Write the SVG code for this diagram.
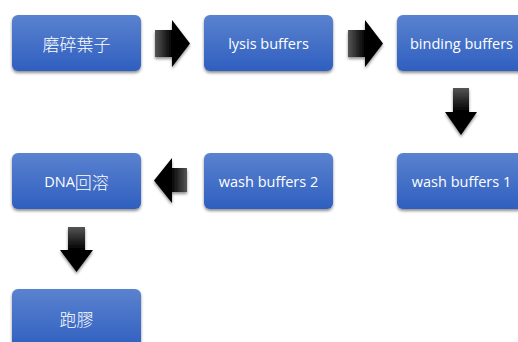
<svg xmlns="http://www.w3.org/2000/svg" width="518" height="342" viewBox="0 0 518 342">
<defs>
<linearGradient id="bg" x1="0" y1="0" x2="0" y2="1">
<stop offset="0" stop-color="#5a82cf"/>
<stop offset="1" stop-color="#2f5fc0"/>
</linearGradient>
<linearGradient id="ah" x1="0" y1="0" x2="1" y2="0">
<stop offset="0" stop-color="#555"/>
<stop offset="0.5" stop-color="#000"/>
<stop offset="1" stop-color="#000"/>
</linearGradient>
<linearGradient id="al" x1="1" y1="0" x2="0" y2="0">
<stop offset="0" stop-color="#555"/>
<stop offset="0.5" stop-color="#000"/>
<stop offset="1" stop-color="#000"/>
</linearGradient>
<linearGradient id="av" x1="0" y1="0" x2="0" y2="1">
<stop offset="0" stop-color="#555"/>
<stop offset="0.5" stop-color="#000"/>
<stop offset="1" stop-color="#000"/>
</linearGradient>
<filter id="sh" x="-20%" y="-20%" width="140%" height="150%">
<feGaussianBlur in="SourceAlpha" stdDeviation="1.5"/>
<feOffset dx="0" dy="2" result="b"/>
<feComponentTransfer><feFuncA type="linear" slope="0.45"/></feComponentTransfer>
<feMerge><feMergeNode/><feMergeNode in="SourceGraphic"/></feMerge>
</filter>
</defs>
<style>
.box{fill:url(#bg);filter:url(#sh)}
.t{fill:#fff;font-family:"Open Sans","Noto Sans CJK TC",sans-serif;font-size:14.5px;text-anchor:middle;dominant-baseline:central}
.c{font-family:"Noto Sans CJK TC",sans-serif;font-size:17px;font-weight:300}
.arr{filter:url(#sh)}
</style>
<g id="n1"><rect class="box" x="12" y="15" width="129" height="56" rx="6"/><text class="t c" x="76.5" y="43">磨碎葉子</text></g>
<g id="n2"><rect class="box" x="204" y="15" width="129" height="56" rx="6"/><text class="t" x="268.5" y="43">lysis buffers</text></g>
<g id="n3"><rect class="box" x="397" y="15" width="129" height="56" rx="6"/><text class="t" x="461.5" y="43">binding buffers</text></g>
<g id="n4"><rect class="box" x="397" y="153" width="129" height="56" rx="6"/><text class="t" x="461.5" y="181">wash buffers 1</text></g>
<g id="n5"><rect class="box" x="204" y="153" width="129" height="56" rx="6"/><text class="t" x="268.5" y="181">wash buffers 2</text></g>
<g id="n6"><rect class="box" x="12" y="153" width="129" height="56" rx="6"/><text class="t" x="76.5" y="181">DNA<tspan class="c">回溶</tspan></text></g>
<g id="n7"><rect class="box" x="12" y="289" width="129" height="60" rx="6"/><text class="t c" x="76.5" y="318">跑膠</text></g>
<g id="connectors">
<polygon class="arr" fill="url(#ah)" points="155,30 172,30 172,20 190,43.5 172,67 172,57 155,57"/>
<polygon class="arr" fill="url(#ah)" points="348,30 365,30 365,20 383,43.5 365,67 365,57 348,57"/>
<polygon class="arr" fill="url(#av)" points="453,88 469,88 469,112 477,112 461,135 445,112 453,112"/>
<polygon class="arr" fill="url(#al)" points="187,168 172,168 172,158 154,180.5 172,203 172,192 187,192"/>
<polygon class="arr" fill="url(#av)" points="68,227 85,227 85,250 93,250 76.5,272 60,250 68,250"/>
</g>
</svg>
